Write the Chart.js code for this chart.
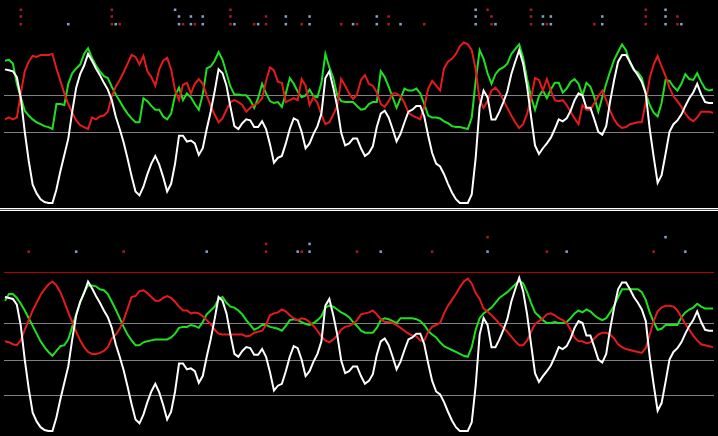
<!DOCTYPE html>
<html><head><meta charset="utf-8">
<script src="https://cdn.jsdelivr.net/npm/chart.js@4/dist/chart.umd.min.js"></script>
<style>
html,body{margin:0;padding:0;background:#000;overflow:hidden;}
#wrap{position:relative;width:718px;height:436px;background:#000;}
#top{position:absolute;left:0;top:0;width:718px;height:208px;}
#sep{position:absolute;left:0;top:208px;width:718px;height:1px;border-top:1px solid #fff;border-bottom:1px solid #fff;background:#555;}
#bot{position:absolute;left:0;top:211px;width:718px;height:225px;}
</style>
</head><body>
<div id="wrap">
<canvas id="top" width="718" height="208"></canvas>
<div id="sep"></div>
<canvas id="bot" width="718" height="225"></canvas>
</div>
<script>
// bar indices (categories)
const bars = Array.from({length: 180}, (_, i) => i);

// main oscillator (white), shown in both panels
const whiteLine = [70,69.5,69,66,55,37.5,22.5,10,5.5,2.5,
1,0.5,0.5,7.5,17,25.5,34,48,60.5,67.5,
72,78,74.5,70.5,67,63,59.5,54,45.5,39,
32,23.5,14.5,6.5,4.5,9,15.5,21,25,20.5,
14,6.5,10.5,21,35.5,35.5,32.5,33,31.5,25.5,
29,39,48,58.5,70,68,61.5,50.5,40.5,39,
42,44,43.5,40,40,43,39,31,21.5,24,
25,31.5,39,44.5,43.5,37.5,29,31.5,36.5,40.5,
47,65.5,69,60.5,50.5,37,30.5,31.5,34,34,
29,25,26.5,30,40,47,48.5,45,39,32.5,
36.5,42.5,48,49,51,51,45.5,35.5,26.5,21,
19.5,15.5,10.5,6,2.5,0.5,0.5,0.5,5,24,
50.5,59,55.5,44,44,48,53,58.5,67.5,74,
80,73,61,45.5,30.5,26,29,31.5,34.5,39,
44,43,44.5,48.5,54,57.5,56.5,50,50,44,
37.5,36,40.5,53.5,64.5,74,77.5,77.5,74,70,
67,63.5,57.5,39,24.5,11,15,26,37.5,41.5,
43.5,46.5,51,55,58,62.5,57,53,52.5,52.5];

const topGreen = [74.5,75,73,62.5,55.5,48.5,46,44,42.5,41.5,
40.5,40,39,52,52,51.5,62.5,68,70.5,72.5,
78,81,76,72,69,66.5,65.5,61,57,53.5,
50,47,44.5,42.5,42.5,55,53.5,51,49,49,
45.5,44,47,56.5,60.5,54,57.5,55.5,52,49,
57,70.5,71.5,74.5,79,75,68,61,57,57,
56.5,56.5,54,50,55,62.5,57.5,53.5,52.5,53,
50.5,57.5,65.5,62.5,58.5,55.5,56.5,59.5,56,55.5,
63,78,71,65.5,56.5,53.5,53,53,53,51,
49,49.5,52,53,53,69,66,61,55.5,50,
55,60,59,59,60,57.5,52,46,45,45,
44.5,43,42,40.5,40,40,39.5,39,45,64,
80,75.5,68,62.5,67.5,70,71,73,78,80.5,
83,76,65,55.5,49,56,59,55,59.5,63,
63,58,60,63.5,65,62.5,56.5,63,61,55.5,
48,55.5,62.5,69,75,79,83,80,73.5,69.5,
68.5,65.5,57.5,51.5,47.5,45.5,52.5,64.5,64,61,
59,62.5,67.5,65,64.5,68,63.5,60,59,59.5];

const topRed = [44,45,44,45,57.5,69,74,77,76.5,77.5,
77.5,77.5,78,70.5,64,57.5,52,47.5,43.5,41,
40,39,45,44,45.5,46,48,56,61,64.5,
68.5,73,77.5,76.5,72.5,77,69,66,61.5,70,
74.5,76,70,59,54,62,63,57.5,62.5,65,
62.5,56.5,51,46.5,42.5,44.5,49,53,54,53,
51.5,48,50,51.5,52.5,55,64,71,69.5,63.5,
63,53,54,55,54,65,61.5,51.5,55.5,52.5,
46.5,41.5,42.5,46.5,51,65,61.5,57.5,54.5,57,
64.5,67,62.5,61.5,58,52,50.5,53.5,57.5,57.5,
56,52.5,47.5,46,45,44,50.5,60,64,61.5,
59,70.5,74,75.5,78,82,84,83,80,70,
54,50,53.5,59,60.5,58,54,50,46,42.5,
39.5,41.5,47,55,65.5,64.5,59,65,59,54,
53.5,54,51.5,48,44.5,41.5,51.5,49,49,52.5,
56,59,54,48.5,44,41,39.5,40,41.5,42,
42.5,42.5,53,65.5,72.5,77,71.5,66.5,60.5,56,
53.5,50.5,47,44.5,43,45,48,48,48,47.5];

const botGreen = [68,71.5,71.5,69.5,66.5,63,59,55,51,47,
44,41.5,39.5,42,44.5,45,48,54.5,61,67,
72.5,76,76,75.5,74,73.5,71.5,67.5,63.5,59,
54.5,50.5,47.5,45,45,46.5,47,47.5,48,48,
48,48,49,51,54,54.5,54.5,55.5,55,54,
57,61,63,65,69,70,67,65,64.5,63,
61,58,55.5,53,54,55.5,55.5,54.5,54,53.5,
52.5,55,58,58.5,58,57,56,55.5,56.5,58,
60,64.5,65.5,65,63.5,62,61,59.5,57,55,
52.5,51.5,51.5,51.5,54,58,59,58.5,57.5,56.5,
59,59,59,59,58.5,57.5,55.5,52.5,50.5,49,
46.5,44.5,43.5,42.5,41.5,40.5,39.5,39,44,53,
59,61.5,63,64.5,67,69.5,71,72.5,74.5,76.5,
78.5,77,72.5,67,62,60,58,56.5,56.5,57,
56.5,56.5,57,59,61.5,63,62,63.5,62.5,60.5,
59,58,59,62,65.5,70,74,74,74,74,
74,72.5,68.5,62,57,53,53.5,55.5,55.5,55.5,
55.5,59.5,62,63.5,64.5,66.5,65,64,64,64];

const botRed = [47,46.5,45.5,45,47.5,53,58,63,67,71,
74,76.5,78,76,72.5,67.5,62,57,52,47.5,
44,41.5,40.5,40.5,41,42,44,48.5,50.5,53.5,
58,64,70,70.5,73,73.5,72,70,68,68,
69.5,70.5,69.5,67.5,65,63,63,61.5,62,61.5,
60,58,56,53,51,50.5,50.5,50.5,50.5,50.5,
50.5,49.5,50,51.5,52,52.5,55.5,60.5,61.5,62,
63.5,62.5,60.5,59,58,59,58.5,57,55,52.5,
49.5,47.5,46.5,48,50,53,54.5,55,56,58,
61,61.5,62,63,61,58.5,57,57,56.5,55.5,
54,52.5,51,50,49.5,47.5,47.5,52,54.5,55.5,
56.5,61.5,65.5,68.5,71.5,75,78,79.5,77,72,
69,64,62.5,60.5,58.5,56,54,52,49.5,47,
45,45,47.5,52,56,57.5,59,61,61.5,60.5,
59,58,56.5,53,49,47,47,46,46.5,48.5,
50.5,51.5,51.5,50.5,48.5,45.5,44,43,42.5,42,
41.5,41,43.5,50.5,57.5,62.5,64.5,65.5,65.5,65,
63,59.5,56,53,50,47.5,45.5,45,44.5,44];

// levels
const topLevels = [56.5, 37.5];
const botLevels = [56.5, 37.5, 19];
const botSignalLevel = 83;

// signal dot rows (values) and bar indices
const dotRows = [101, 97.5, 93.5];
const topRedRow1 = [4,27,57,122,133,162];
const topBlueRow1 = [43,119,167];
const topRedRow2 = [4,27,57,66,97,123,133,162,170];
const topBlueRow2 = [44,47,50,71,77,94,119,136,138,151,167];
const topRedRow3 = [4,27,29,45,48,57,63,66,75,85,89,97,106,123,133,137,149,162,170];
const topBlueRow3 = [16,28,44,47,50,58,64,71,77,88,94,100,119,124,136,138,151,167,171];
const botRedRow1 = [122];
const botBlueRow1 = [167];
const botRedRow2 = [66];
const botBlueRow2 = [77];
const botRedRow3 = [6,30,66,75,89,108,137,164];
const botBlueRow3 = [18,51,74,77,95,122,142,172];

const WHITE = '#ffffff', GREEN = '#1fe01f', RED = '#e31b1b';
const DOT_RED = '#a31c22', DOT_BLUE = '#80a2c6';
const GRAY = '#808080', LEVEL_RED = '#b40000';

const levelPlugin = {
  id: 'levels',
  beforeDatasetsDraw(chart, args, opts) {
    const {ctx, chartArea, scales: {y}} = chart;
    ctx.save();
    (opts.lines || []).forEach(l => {
      const py = Math.round(y.getPixelForValue(l.value)) + 0.5;
      ctx.strokeStyle = l.color;
      ctx.lineWidth = 1;
      ctx.beginPath();
      ctx.moveTo(chartArea.left, py);
      ctx.lineTo(chartArea.right, py);
      ctx.stroke();
    });
    ctx.restore();
  }
};

function series(values) { return values.map((v, i) => ({x: bars[i], y: v})); }
function lineDs(values, color) {
  return {data: series(values), borderColor: color, borderWidth: 2, pointRadius: 0,
          tension: 0, fill: false, borderJoinStyle: 'miter'};
}
function dotDs(idx, row, color) {
  return {data: idx.map(k => ({x: k, y: row})), showLine: false, pointStyle: 'rect',
          pointRadius: 1.8, pointBackgroundColor: color, pointBorderWidth: 0,
          borderColor: color, backgroundColor: color};
}

function makeChart(id, yMax, green, red, lines, dotSets) {
  const datasets = [lineDs(whiteLine, WHITE), lineDs(red, RED), lineDs(green, GREEN)];
  dotSets.forEach(d => datasets.push(dotDs(d[0], d[1], d[2])));
  return new Chart(document.getElementById(id), {
    type: 'line',
    data: {datasets},
    options: {
      responsive: false, animation: false, devicePixelRatio: 1, events: [],
      layout: {padding: 0},
      plugins: {legend: {display: false}, tooltip: {enabled: false}, levels: {lines}},
      scales: {
        x: {type: 'linear', display: false, min: -0.25, max: 179.25},
        y: {display: false, min: 0, max: yMax}
      }
    },
    plugins: [levelPlugin]
  });
}

makeChart('top', 104, topGreen, topRed,
  topLevels.map(v => ({value: v, color: GRAY})),
  [[topRedRow1, dotRows[0], DOT_RED], [topBlueRow1, dotRows[0], DOT_BLUE],
   [topRedRow2, dotRows[1], DOT_RED], [topBlueRow2, dotRows[1], DOT_BLUE],
   [topRedRow3, dotRows[2], DOT_RED], [topBlueRow3, dotRows[2], DOT_BLUE]]);

makeChart('bot', 112.5, botGreen, botRed,
  botLevels.map(v => ({value: v, color: GRAY})).concat([{value: botSignalLevel, color: LEVEL_RED}]),
  [[botRedRow1, dotRows[0], DOT_RED], [botBlueRow1, dotRows[0], DOT_BLUE],
   [botRedRow2, dotRows[1], DOT_RED], [botBlueRow2, dotRows[1], DOT_BLUE],
   [botRedRow3, dotRows[2], DOT_RED], [botBlueRow3, dotRows[2], DOT_BLUE]]);
</script>
</body></html>
